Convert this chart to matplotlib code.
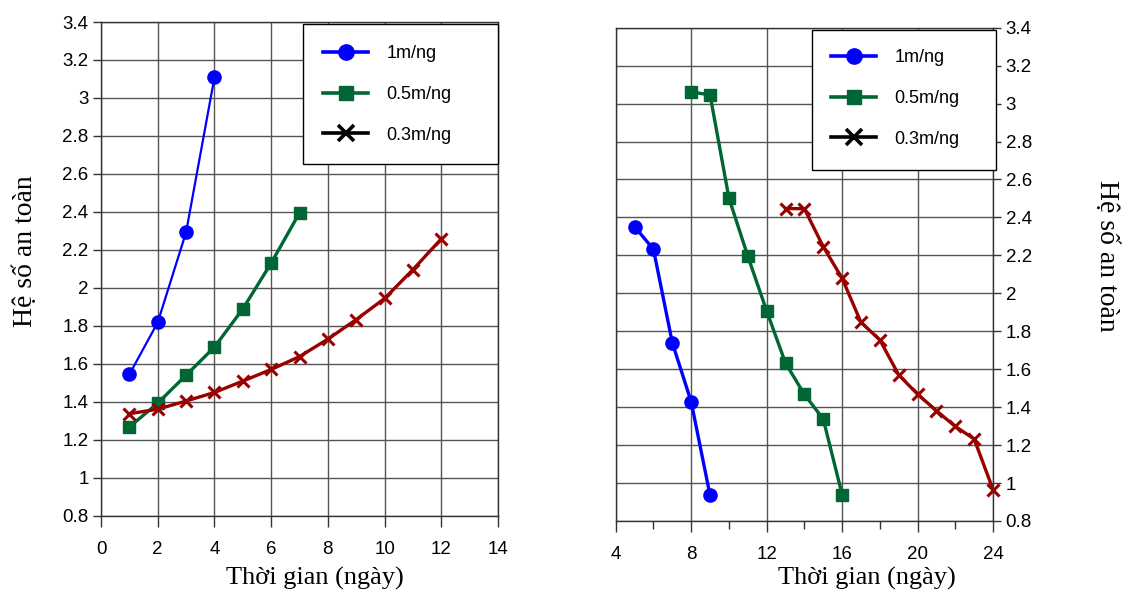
import matplotlib
matplotlib.use("Agg")
import matplotlib.pyplot as plt
from matplotlib.lines import Line2D
from matplotlib.patches import Rectangle
from matplotlib.ticker import MultipleLocator

# ---- data: left panel ----
l_x1 = [1, 2, 3, 4]
l_y1 = [1.544, 1.818, 2.293, 3.108]
l_x2 = [1, 2, 3, 4, 5, 6, 7]
l_y2 = [1.267, 1.393, 1.540, 1.688, 1.889, 2.130, 2.395]
l_x3 = [1, 2, 3, 4, 5, 6, 7, 8, 9, 10, 11, 12]
l_y3 = [1.337, 1.361, 1.404, 1.449, 1.509, 1.570, 1.638, 1.730, 1.833, 1.944, 2.096, 2.258]

# ---- data: right panel ----
r_x1 = [5, 6, 7, 8, 9]
r_y1 = [2.351, 2.232, 1.739, 1.428, 0.935]
r_x2 = [8, 9, 10, 11, 12, 13, 14, 15, 16]
r_y2 = [3.061, 3.046, 2.502, 2.196, 1.907, 1.632, 1.467, 1.337, 0.939]
r_x3 = [13, 14, 15, 16, 17, 18, 19, 20, 21, 22, 23, 24]
r_y3 = [2.447, 2.446, 2.246, 2.079, 1.847, 1.754, 1.570, 1.468, 1.381, 1.298, 1.232, 0.965]

labels = ["1m/ng", "0.5m/ng", "0.3m/ng"]
xlabel = "Thời gian (ngày)"
ylabel = "Hệ số an toàn"

BLUE = "#0000FF"
GREEN = "#006633"
RED = "#990000"
GRID = "#555555"

plt.rcParams['font.family'] = ['Liberation Sans', 'DejaVu Sans']

W, H = 1130, 592
fig = plt.figure(figsize=(W / 100, H / 100), dpi=100)
ax1 = fig.add_axes([0.0894, 0.1289, 0.3513, 0.8339])
ax2 = fig.add_axes([0.5449, 0.1200, 0.3339, 0.8332])


def fmt(v, p):
    if abs(v - round(v)) < 1e-6:
        return f"{int(round(v))}"
    return f"{v:.1f}"


def style(ax):
    ax.set_ylim(0.8, 3.4)
    ax.yaxis.set_major_locator(MultipleLocator(0.2))
    ax.grid(True, color=GRID, linewidth=1.0)
    ax.set_axisbelow(True)
    for s in ax.spines.values():
        s.set_linewidth(1.0)
        s.set_color("#333333")
    ax.tick_params(axis='y', which='major', direction='out', length=6, width=1,
                   labelsize=13.5, color="#333333", pad=3)
    ax.tick_params(axis='x', which='major', direction='out', length=8, width=1,
                   labelsize=13.5, color="#333333", pad=10)
    ax.tick_params(axis='x', which='minor', direction='out', length=6, width=1, color="#333333")
    ax.yaxis.set_major_formatter(plt.FuncFormatter(fmt))


# left
ax1.plot(l_x1, l_y1, color=BLUE, lw=1.6, marker='o', ms=9.5)
ax1.plot(l_x2, l_y2, color=GREEN, lw=2.4, marker='s', ms=8.5)
ax1.plot(l_x3, l_y3, color=RED, lw=2.4, marker='x', ms=9, mew=2.2)
ax1.set_xlim(0, 14)
ax1.xaxis.set_major_locator(MultipleLocator(2))
style(ax1)

# right
ax2.plot(r_x1, r_y1, color=BLUE, lw=2.4, marker='o', ms=9.5)
ax2.plot(r_x2, r_y2, color=GREEN, lw=2.4, marker='s', ms=8.5)
ax2.plot(r_x3, r_y3, color=RED, lw=2.4, marker='x', ms=9, mew=2.2, clip_on=False)
ax2.set_xlim(4, 24)
ax2.xaxis.set_major_locator(MultipleLocator(4))
ax2.xaxis.set_minor_locator(MultipleLocator(2))
ax2.yaxis.tick_right()
style(ax2)
ax2.grid(False, which='minor')

handles = [
    Line2D([], [], color=BLUE, lw=2.6, marker='o', ms=11),
    Line2D([], [], color=GREEN, lw=2.6, marker='s', ms=10.5),
    Line2D([], [], color='black', lw=2.6, marker='x', ms=11.5, mew=2.6),
]


def fx(px):
    return px / W


def fy(py):
    return 1 - py / H


# (axes, frame x0, frame y0, frame x1, frame y1, line start x, first row top y)
legends = [
    (ax1, 303, 24, 498, 164, 323, 45),
    (ax2, 812, 30, 996, 170, 831, 49),
]
for ax, x0, y0, x1, y1, lx, ly in legends:
    rect = Rectangle((fx(x0), fy(y1)), fx(x1) - fx(x0), fy(y0) - fy(y1),
                     transform=fig.transFigure, facecolor='white', edgecolor='black',
                     linewidth=1.0, zorder=4.5, clip_on=False)
    ax.add_patch(rect)
    leg = ax.legend(handles, labels, loc='upper left', bbox_to_anchor=(fx(lx), fy(ly)),
                    bbox_transform=fig.transFigure, borderaxespad=0, borderpad=0,
                    fontsize=13, frameon=False, handlelength=2.5, handletextpad=1.0,
                    labelspacing=1.32)
    leg.set_zorder(5)

serif = ['Liberation Serif', 'DejaVu Serif']
fig.text(fx(315), fy(578), xlabel, family=serif, fontsize=19, ha='center', va='center')
fig.text(fx(867), fy(578), xlabel, family=serif, fontsize=19, ha='center', va='center')
fig.text(fx(26), fy(251), ylabel, family=serif, fontsize=20, ha='center', va='center', rotation=90)
fig.text(fx(1107), fy(256), ylabel, family=serif, fontsize=20, ha='center', va='center', rotation=-90)

fig.savefig("out.png", dpi=100)
